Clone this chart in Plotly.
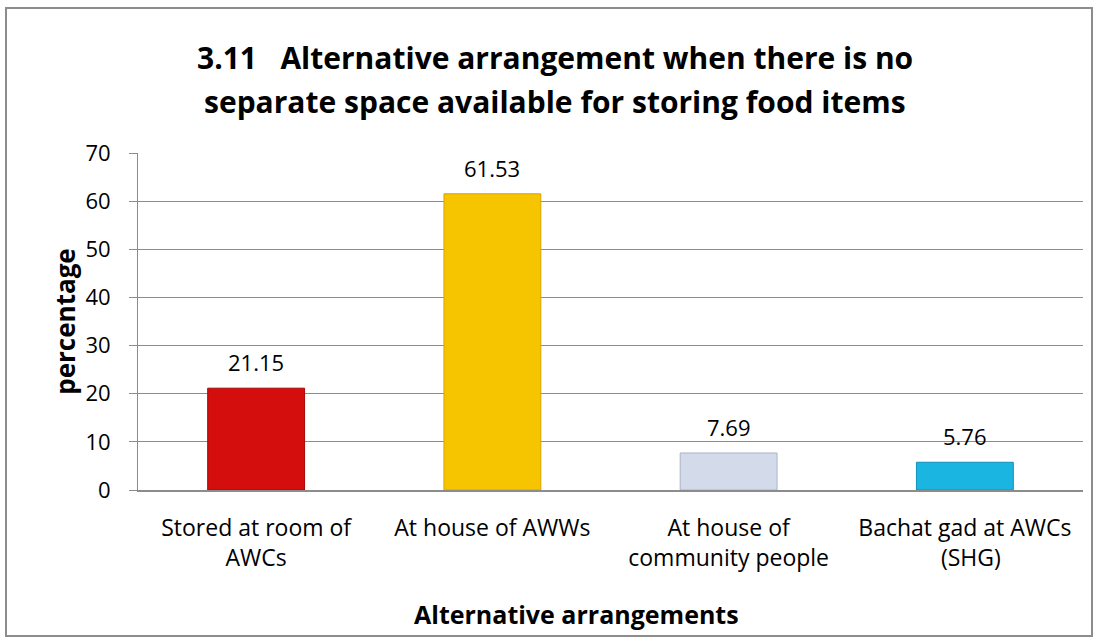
import plotly.graph_objects as go

NB = "\u00a0"
categories = ["Stored at room of<br>AWCs", "At house of AWWs", "At house of<br>community people",
              "Bachat gad at AWCs<br>" + NB * 2 + "(SHG)"]
values = [21.15, 61.53, 7.69, 5.76]
labels = ["21.15", "61.53", "7.69", "5.76"]
colors = ["#d40d0d", "#f7c400", "#d3daea", "#1bb5e2"]
line_colors = ["#a80808", "#d9a400", "#aab3c8", "#1290b8"]
title_lines = ["3.11   Alternative arrangement when there is no",
               "separate space available for storing food items"]
x_title = "Alternative arrangements"
y_title = "percentage"

W, H = 1099, 644
L, R, T, B = 138, 16, 153, 154
pw, ph = W - L - R, H - T - B
FONT = "Open Sans, Liberation Sans, sans-serif"

def px_x(x):
    return (x - L) / pw

def px_y(y):
    return (H - B - y) / ph

fig = go.Figure()
fig.add_trace(go.Bar(
    x=categories, y=values,
    marker=dict(color=colors, line=dict(color=line_colors, width=1)),
    width=0.41,
    hoverinfo="skip",
))

annotations = []
for c, v, t in zip(categories, values, labels):
    annotations.append(dict(x=c, y=v, xref="x", yref="y", text=t, showarrow=False,
                            yanchor="middle", yshift=26,
                            font=dict(family=FONT, size=22, color="black")))
for i, (line, ypix) in enumerate(zip(title_lines, [58, 101])):
    annotations.append(dict(x=px_x(555), y=px_y(ypix), xref="paper", yref="paper",
                            text="<b>" + line + "</b>", showarrow=False,
                            xanchor="center", yanchor="middle",
                            font=dict(family=FONT, size=30, color="black")))
annotations.append(dict(x=px_x(576), y=px_y(614), xref="paper", yref="paper",
                        text="<b>" + x_title + "</b>", showarrow=False,
                        xanchor="center", yanchor="middle",
                        font=dict(family=FONT, size=25, color="black")))

fig.update_layout(
    width=W, height=H,
    margin=dict(l=L, r=R, t=T, b=B),
    paper_bgcolor="white", plot_bgcolor="white",
    showlegend=False,
    font=dict(family=FONT, color="black"),
    annotations=annotations,
    shapes=[dict(type="rect", xref="paper", yref="paper",
                 x0=px_x(6), x1=px_x(1092), y0=px_y(8), y1=px_y(636),
                 line=dict(color="#8c8c8c", width=2), fillcolor="rgba(0,0,0,0)", layer="below")],
)
fig.update_yaxes(
    range=[0, 70], dtick=10, showgrid=True, gridcolor="#8c8c8c", gridwidth=1,
    showline=True, linecolor="#8c8c8c", linewidth=1,
    ticks="outside", ticklen=8, tickcolor="#8c8c8c",
    ticklabelstandoff=14,
    tickfont=dict(size=22, color="black"),
    title=dict(text="<b>" + y_title + "</b>", font=dict(size=26, color="black"), standoff=2),
    zeroline=False,
)
fig.update_xaxes(
    showline=True, linecolor="#8c8c8c", linewidth=2, ticks="",
    ticklabelstandoff=16,
    tickfont=dict(size=23, color="black"),
)

fig.write_html("out.html", post_script="document.body.style.margin='0px';",
               config={"displayModeBar": False})
